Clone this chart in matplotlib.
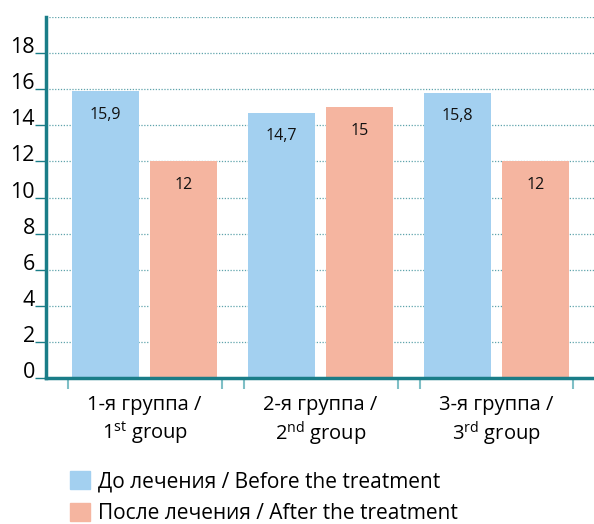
import numpy as np
import matplotlib
matplotlib.use("Agg")
import matplotlib.pyplot as plt
from matplotlib.patches import Patch

plt.rcParams['font.family'] = ['Open Sans', 'DejaVu Sans']
plt.rcParams['mathtext.fontset'] = 'custom'
plt.rcParams['mathtext.rm'] = 'Open Sans'

# Данные
groups = ["1-я группа /\n1$^{\\rm st}$ group",
          "2-я группа /\n2$^{\\rm nd}$ group",
          "3-я группа /\n3$^{\\rm rd}$ group"]
before = [15.9, 14.7, 15.8]
after = [12, 15, 12]
before_lbl = ["15,9", "14,7", "15,8"]
after_lbl = ["12", "15", "12"]
series_names = ["До лечения / Before the treatment", "После лечения / After the treatment"]

c_before = "#A3D0F0"
c_after = "#F5B5A0"
teal = "#1A7D88"

fig = plt.figure(figsize=(5.94, 5.24), dpi=100)
ax = fig.add_axes([46/594, 1-378/524, 1-46/594, (378-17)/524])

x = np.arange(len(groups))
w = 0.38
off = 0.222
b1 = ax.bar(x - off, before, w, color=c_before, zorder=2)
b2 = ax.bar(x + off, after, w, color=c_after, zorder=2)

for rect, t in zip(list(b1) + list(b2), before_lbl + after_lbl):
    ax.annotate(t, (rect.get_x() + rect.get_width()/2, rect.get_height()),
                xytext=(0, -17), textcoords="offset points", ha="center", va="center",
                fontsize=11.5, color="#111111", zorder=3)

ax.set_ylim(0, 20)
ax.set_xlim(-0.56, 2.554)
ax.set_yticks(np.arange(0, 20, 2))
ax.tick_params(axis="y", length=8, width=1, color=teal, labelsize=15.5, pad=0)
for lab in ax.get_yticklabels():
    lab.set_verticalalignment("baseline")

ax.set_xticks(x)
ax.set_xticklabels(groups, fontsize=14.5, linespacing=1.25)
ax.tick_params(axis="x", length=0, pad=12)
minor = np.concatenate([x - 0.4375, x, x + 0.4375])
ax.set_xticks(minor, minor=True)
ax.tick_params(axis="x", which="minor", length=8, width=1.5, color="#7FBFC6")

for yv in np.arange(2, 21, 2):
    ax.axhline(yv, color=teal, lw=0.9, ls=(0, (1, 1.3)), zorder=1, alpha=0.7)

for s in ["top", "right"]:
    ax.spines[s].set_visible(False)
ax.spines["left"].set_color(teal)
ax.spines["left"].set_linewidth(2.5)
ax.spines["bottom"].set_color(teal)
ax.spines["bottom"].set_linewidth(2.5)

handles = [Patch(color=c_before), Patch(color=c_after)]
fig.legend(handles, series_names, loc="upper left", bbox_to_anchor=(70/594, 1-471/524),
           frameon=False, fontsize=15, handlelength=0.95, handleheight=0.95,
           handletextpad=0.4, labelspacing=0.5, borderpad=0, borderaxespad=0)

plt.savefig("out.png", dpi=100)
